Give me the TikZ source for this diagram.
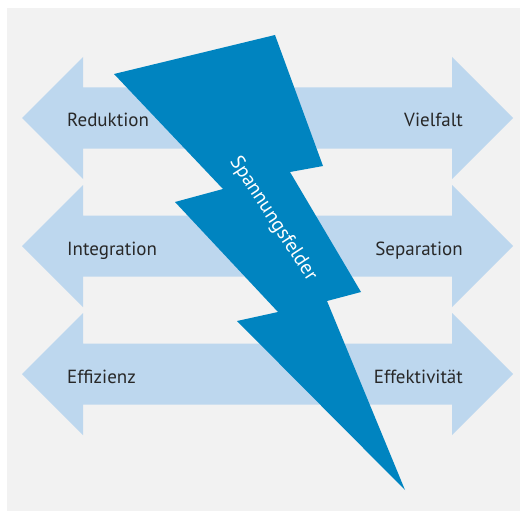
\documentclass[tikz,border=0pt]{standalone}
\usepackage{fontspec}
\setmainfont{PT Sans}
\usepackage{tikz}

\definecolor{panelgray}{RGB}{242,242,242}
\definecolor{arrowblue}{RGB}{189,215,238}
\definecolor{boltblue}{RGB}{0,132,192}
\definecolor{labelgray}{RGB}{40,40,40}

\begin{document}
\begin{tikzpicture}[x=1pt,y=-1pt,
            label node/.style={inner sep=0pt,text=labelgray,font=\fontsize{19}{21}\selectfont},
            bolt/.style={fill=boltblue,draw=none}]

        \useasboundingbox (0,0) rectangle (520,511);
        \fill[panelgray] (7,8) rectangle (520,511);

        % double arrows with their two labels
        \foreach \name/\lefttext/\righttext/\y in {top/Reduktion/Vielfalt/118,
                    mid/Integration/Separation/246,
                    low/Effizienz/Effektivit\"at/374}{
            \fill[arrowblue] (22,\y) -- (83,\y-61) -- (83,\y-30.5) -- (452,\y-30.5)
                -- (452,\y-61) -- (513,\y) -- (452,\y+61) -- (452,\y+30.5)
                -- (83,\y+30.5) -- (83,\y+61) -- cycle;
            \node[label node, anchor=base west] (\name-l) at (67,\y+9) {\lefttext};
            \node[label node, anchor=base east] (\name-r) at (463,\y+9) {\righttext};
        }

        % lightning bolt
        \path[bolt] (114,74) -- (275,35) -- (323,166) -- (290,172) -- (361,292)
            -- (327,301) -- (405,490) -- (237,321) -- (278,312) -- (175,202)
            -- (223,189) -- cycle;
        \node[label node, text=white, rotate=-57, font=\fontsize{20}{22}\selectfont]
            (field) at (273,219) {Spannungsfelder};

    \end{tikzpicture}
\end{document}
